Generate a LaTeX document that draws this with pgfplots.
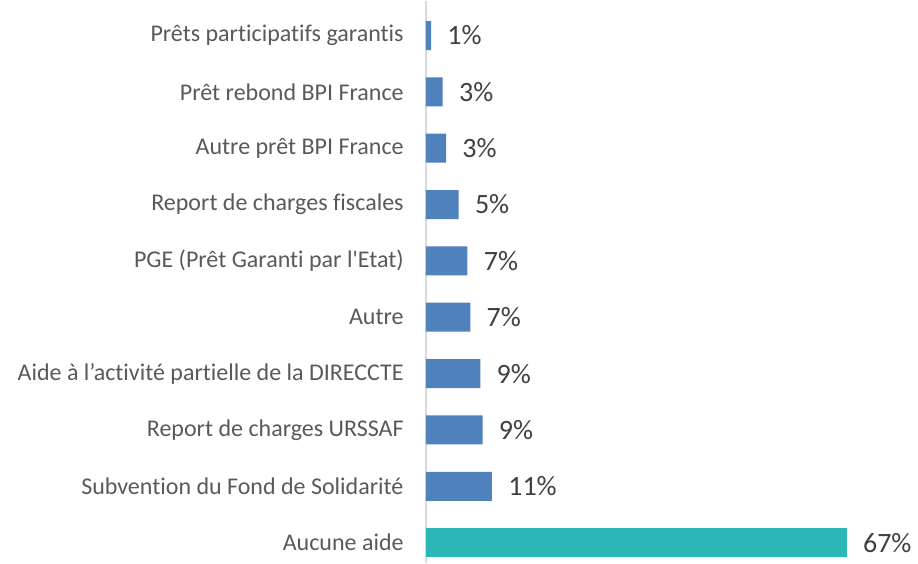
\documentclass[border=0pt]{standalone}
\usepackage{fontspec}
\setmainfont{Carlito}[Ligatures={NoCommon}]
\usepackage{pgfplots}
\pgfplotsset{compat=1.18}
\definecolor{barblue}{RGB}{79,129,189}
\definecolor{barteal}{RGB}{43,182,184}
\definecolor{labgray}{RGB}{89,89,89}
\definecolor{valgray}{RGB}{64,64,64}
\definecolor{axgray}{RGB}{217,217,217}
\begin{document}
\begin{tikzpicture}
\begin{axis}[
  scale only axis,
  width=244.9pt, height=281pt,
  xmin=0, xmax=78,
  ymin=-0.355, ymax=9.62,
  axis x line=none,
  axis y line*=left,
  y axis line style={draw=axgray, line width=0.6pt},
  ytick={0,...,9},
  yticklabels={Aucune aide,
    Subvention du Fond de Solidarité,
    Report de charges URSSAF,
    Aide à l’activité partielle de la DIRECCTE,
    Autre,
    PGE (Prêt Garanti par l\textquotesingle Etat),
    Report de charges fiscales,
    Autre prêt BPI France,
    Prêt rebond BPI France,
    Prêts participatifs garantis},
  major tick length=0pt,
  yticklabel style={font=\fontsize{12}{14}\selectfont, text=labgray, anchor=east, inner sep=0pt, xshift=-11pt},
  xbar, bar width=14.5pt, bar shift=0pt,
  nodes near coords, point meta=explicit symbolic,
  every node near coord/.append style={font=\fontsize{14}{16}\selectfont, text=valgray, anchor=west, inner sep=0pt, xshift=8pt},
  clip=false,
]
% bleu : toutes les aides ; sarcelle : aucune aide
\addplot[fill=barblue, draw=none] coordinates {
  (10.5,1) [11\%]
  (9.0,2) [9\%]
  (8.65,3) [9\%]
  (7.05,4) [7\%]
  (6.6,5) [7\%]
  (5.2,6) [5\%]
  (3.2,7) [3\%]
  (2.66,8) [3\%]
  (0.8,9) [1\%]
};
\addplot[fill=barteal, draw=none] coordinates {
  (67,0) [67\%]
};
\end{axis}
\path (current axis.south west) ++(-213pt,0) rectangle ++(459pt,281pt);
\end{tikzpicture}
\end{document}
